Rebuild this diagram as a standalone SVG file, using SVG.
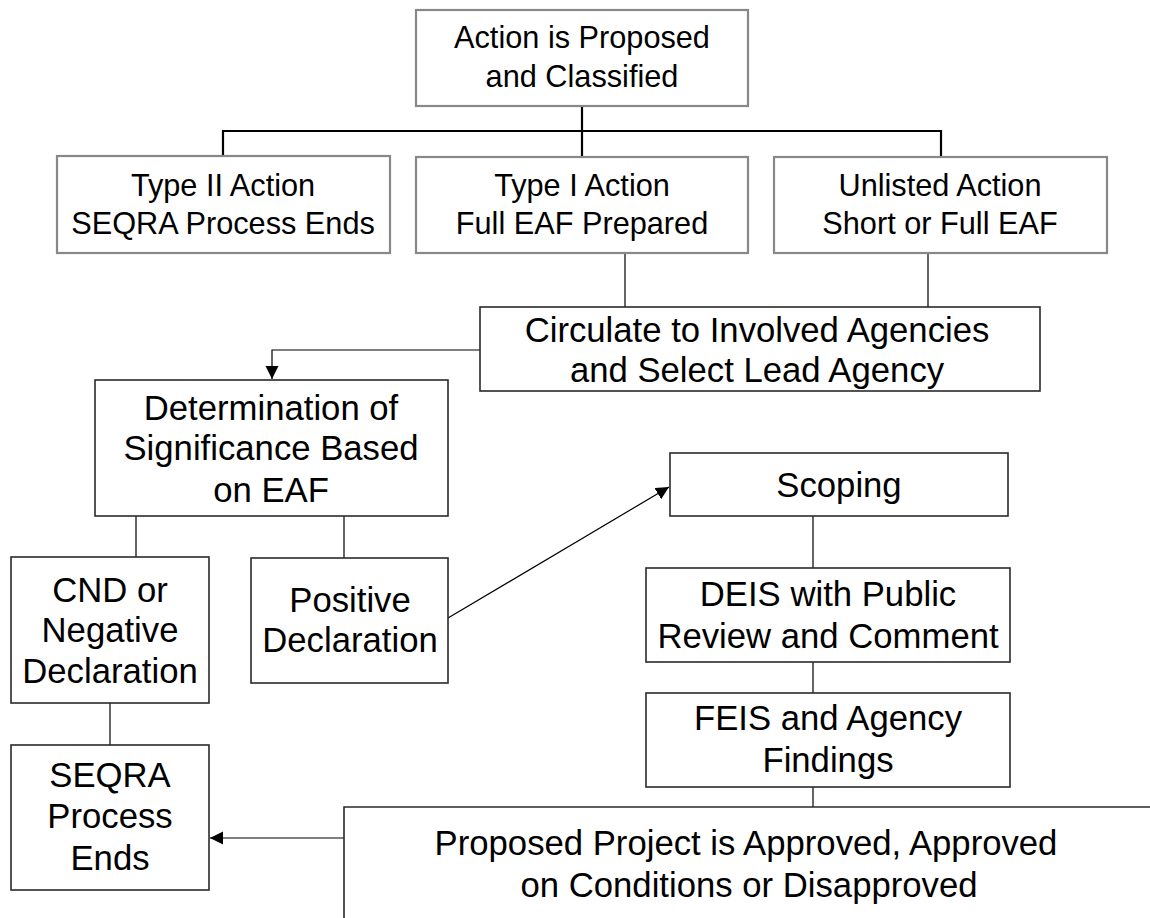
<svg xmlns="http://www.w3.org/2000/svg" width="1150" height="918" viewBox="0 0 1150 918">
<style>
.gbox{fill:#fff;stroke:#888;stroke-width:2.2}
.box{fill:#fff;stroke:#2a2a2a;stroke-width:1.6}
.t1{font-family:"Liberation Sans",Arial,sans-serif;font-size:30.7px;fill:#000;text-anchor:middle}
.t2{font-family:"Liberation Sans",Arial,sans-serif;font-size:34.7px;fill:#000;text-anchor:middle}
.tree{fill:none;stroke:#000;stroke-width:2.2}
.con{fill:none;stroke:#000;stroke-width:1.2}
</style>
<defs>
<marker id="ah" markerUnits="userSpaceOnUse" markerWidth="14" markerHeight="14" refX="13" refY="6.5" orient="auto">
<path d="M0,0 L13,6.5 L0,13 z" fill="#000"/>
</marker>
</defs>
<g id="connectors">
<path class="tree" d="M582,106 V156 M223,156 V131 H941 V156"/>
<path class="con" d="M625,253 V307 M928,253 V307"/>
<path class="con" d="M480,350 H272 V379" marker-end="url(#ah)"/>
<path class="con" d="M136,516 V557 M344,516 V558"/>
<path class="con" d="M448,618 L669,487" marker-end="url(#ah)"/>
<path class="con" d="M813,516 V568 M813,662 V693 M813,787 V807"/>
<path class="con" d="M110,703 V745"/>
<path class="con" d="M344,838 H210" marker-end="url(#ah)"/>
</g>
<g id="n-action">
<rect class="gbox" x="416" y="10" width="332" height="96"/>
<text class="t1" x="582" y="48">Action is Proposed</text>
<text class="t1" x="582" y="87">and Classified</text>
</g>
<g id="n-type2">
<rect class="gbox" x="57" y="156" width="333" height="97"/>
<text class="t1" x="223" y="196">Type II Action</text>
<text class="t1" x="223" y="234">SEQRA Process Ends</text>
</g>
<g id="n-type1">
<rect class="gbox" x="416" y="157" width="332" height="96"/>
<text class="t1" x="582" y="196">Type I Action</text>
<text class="t1" x="582" y="234">Full EAF Prepared</text>
</g>
<g id="n-unlisted">
<rect class="gbox" x="774" y="157" width="333" height="96"/>
<text class="t1" x="940" y="196">Unlisted Action</text>
<text class="t1" x="940" y="234">Short or Full EAF</text>
</g>
<g id="n-circulate">
<rect class="box" x="480" y="307" width="560" height="84"/>
<text class="t2" x="757" y="342">Circulate to Involved Agencies</text>
<text class="t2" x="757" y="382">and Select Lead Agency</text>
</g>
<g id="n-determination">
<rect class="box" x="95" y="380" width="353" height="136"/>
<text class="t2" x="271" y="420">Determination of</text>
<text class="t2" x="271" y="460">Significance Based</text>
<text class="t2" x="271" y="502">on EAF</text>
</g>
<g id="n-cnd">
<rect class="box" x="11" y="557" width="198" height="146"/>
<text class="t2" x="110" y="602">CND or</text>
<text class="t2" x="110" y="642">Negative</text>
<text class="t2" x="110" y="683">Declaration</text>
</g>
<g id="n-positive">
<rect class="box" x="251" y="558" width="197" height="125"/>
<text class="t2" x="350" y="612">Positive</text>
<text class="t2" x="350" y="652">Declaration</text>
</g>
<g id="n-scoping">
<rect class="box" x="670" y="453" width="338" height="63"/>
<text class="t2" x="839" y="497">Scoping</text>
</g>
<g id="n-deis">
<rect class="box" x="646" y="568" width="364" height="94"/>
<text class="t2" x="828" y="606">DEIS with Public</text>
<text class="t2" x="828" y="648">Review and Comment</text>
</g>
<g id="n-feis">
<rect class="box" x="646" y="693" width="364" height="94"/>
<text class="t2" x="828" y="730">FEIS and Agency</text>
<text class="t2" x="828" y="772">Findings</text>
</g>
<g id="n-seqra">
<rect class="box" x="11" y="745" width="198" height="145"/>
<text class="t2" x="110" y="787">SEQRA</text>
<text class="t2" x="110" y="828">Process</text>
<text class="t2" x="110" y="870">Ends</text>
</g>
<g id="n-proposed">
<path class="box" d="M1150,807 H344 V918" fill="none"/>
<text class="t2" x="746" y="855">Proposed Project is Approved, Approved</text>
<text class="t2" x="749" y="897">on Conditions or Disapproved</text>
</g>
</svg>
